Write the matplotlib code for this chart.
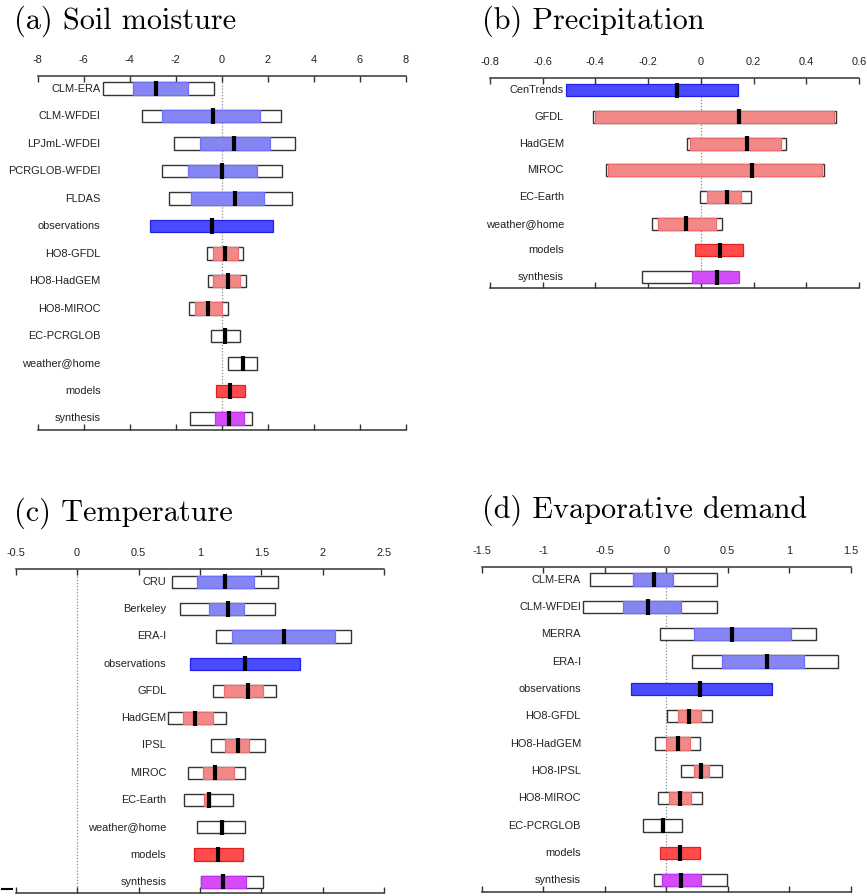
import numpy as np
import matplotlib
matplotlib.use("Agg")
import matplotlib.pyplot as plt
from matplotlib.lines import Line2D

nan = np.nan

# ---------------- (a) Soil moisture ----------------
labels_a = ['CLM-ERA', 'CLM-WFDEI', 'LPJmL-WFDEI', 'PCRGLOB-WFDEI', 'FLDAS', 'observations',
            'HO8-GFDL', 'HO8-HadGEM', 'HO8-MIROC', 'EC-PCRGLOB', 'weather@home', 'models', 'synthesis']
kind_a = ['obs'] * 5 + ['obs_syn'] + ['mod'] * 5 + ['mod_syn', 'syn']
outer_lo_a = [-5.18, -3.45, -2.09, -2.61, -2.29, nan, -0.65, -0.62, -1.42, -0.49, 0.28, nan, -1.40]
outer_hi_a = [-0.32, 2.58, 3.19, 2.62, 3.04, nan, 0.94, 1.07, 0.26, 0.77, 1.52, nan, 1.33]
inner_lo_a = [-3.84, -2.59, -0.97, -1.49, -1.32, -3.11, -0.39, -0.39, -1.16, 0.08, nan, -0.26, -0.29]
inner_hi_a = [-1.49, 1.67, 2.10, 1.52, 1.84, 2.22, 0.68, 0.80, 0.00, 0.20, nan, 1.00, 0.96]
median_a = [-2.84, -0.39, 0.54, -0.01, 0.55, -0.43, 0.14, 0.26, -0.58, 0.12, 0.90, 0.36, 0.32]
ticks_a = [-8, -6, -4, -2, 0, 2, 4, 6, 8]

# ---------------- (b) Precipitation ----------------
labels_b = ['CenTrends', 'GFDL', 'HadGEM', 'MIROC', 'EC-Earth', 'weather@home', 'models', 'synthesis']
kind_b = ['obs_syn'] + ['mod'] * 5 + ['mod_syn', 'syn']
outer_lo_b = [nan, -0.408, -0.052, -0.358, -0.005, -0.185, nan, -0.225]
outer_hi_b = [nan, 0.512, 0.322, 0.469, 0.190, 0.080, nan, 0.116]
inner_lo_b = [-0.512, -0.403, -0.040, -0.352, 0.024, -0.161, -0.024, -0.033]
inner_hi_b = [0.142, 0.506, 0.304, 0.460, 0.152, 0.058, 0.159, 0.144]
median_b = [-0.091, 0.143, 0.175, 0.193, 0.101, -0.057, 0.073, 0.061]
ticks_b = [-0.8, -0.6, -0.4, -0.2, 0, 0.2, 0.4, 0.6]

# ---------------- (c) Temperature ----------------
labels_c = ['CRU', 'Berkeley', 'ERA-I', 'observations', 'GFDL', 'HadGEM', 'IPSL', 'MIROC',
            'EC-Earth', 'weather@home', 'models', 'synthesis']
kind_c = ['obs'] * 3 + ['obs_syn'] + ['mod'] * 6 + ['mod_syn', 'syn']
outer_lo_c = [0.776, 0.84, 1.128, nan, 1.106, 0.743, 1.088, 0.901, 0.871, 0.977, nan, 1.009]
outer_hi_c = [1.631, 1.61, 2.23, nan, 1.619, 1.213, 1.530, 1.370, 1.272, 1.370, nan, 1.511]
inner_lo_c = [0.974, 1.077, 1.258, 0.92, 1.196, 0.863, 1.207, 1.025, 1.033, nan, 0.955, 1.009]
inner_hi_c = [1.443, 1.362, 2.10, 1.81, 1.513, 1.109, 1.402, 1.280, 1.08, nan, 1.354, 1.372]
median_c = [1.20, 1.23, 1.68, 1.37, 1.389, 0.963, 1.307, 1.12, 1.07, 1.18, 1.15, 1.19]
ticks_c = [-0.5, 0, 0.5, 1, 1.5, 2, 2.5]

# ---------------- (d) Evaporative demand ----------------
labels_d = ['CLM-ERA', 'CLM-WFDEI', 'MERRA', 'ERA-I', 'observations', 'HO8-GFDL', 'HO8-HadGEM',
            'HO8-IPSL', 'HO8-MIROC', 'EC-PCRGLOB', 'models', 'synthesis']
kind_d = ['obs'] * 4 + ['obs_syn'] + ['mod'] * 5 + ['mod_syn', 'syn']
outer_lo_d = [-0.622, -0.676, -0.047, 0.207, nan, 0.004, -0.091, 0.118, -0.066, -0.186, nan, -0.096]
outer_hi_d = [0.416, 0.416, 1.221, 1.400, nan, 0.375, 0.278, 0.457, 0.294, 0.131, nan, 0.492]
inner_lo_d = [-0.272, -0.348, 0.224, 0.457, -0.283, 0.093, -0.004, 0.226, 0.026, -0.045, -0.047, -0.031]
inner_hi_d = [0.053, 0.123, 1.012, 1.118, 0.858, 0.283, 0.191, 0.348, 0.199, -0.015, 0.272, 0.280]
median_d = [-0.099, -0.145, 0.535, 0.817, 0.278, 0.188, 0.093, 0.286, 0.112, -0.028, 0.112, 0.123]
ticks_d = [-1.5, -1, -0.5, 0, 0.5, 1, 1.5]

# fill / edge colours for the inner (coloured) bars
STYLE = {
    'obs':     ('#8585f3', '#6f6ff8'),
    'obs_syn': ('#4a4aff', '#2020e6'),
    'mod':     ('#f28888', '#ef6c6c'),
    'mod_syn': ('#ff4b4b', '#e02020'),
    'syn':     ('#d24df7', '#bf33f0'),
}

W, H = 867, 896
fig = plt.figure(figsize=(W / 100, H / 100), dpi=100)
fig.patch.set_facecolor('white')

TXT = 7.9


def px_axes(left, top, right, bottom):
    return fig.add_axes([left / W, 1 - bottom / H, (right - left) / W, (bottom - top) / H])


def draw_panel(ax, labels, kinds, olo, ohi, ilo, ihi, med, ticks):
    n = len(labels)
    y = np.arange(n)
    olo, ohi, ilo, ihi, med = map(np.asarray, (olo, ohi, ilo, ihi, med))
    h = 0.45

    ax.axvline(0, color='#8a8a8a', ls=(0, (1, 1.5)), lw=0.9, zorder=1)

    for i in range(n):
        if np.isfinite(olo[i]):
            ax.barh(y[i], ohi[i] - olo[i], left=olo[i], height=h, color='white',
                    edgecolor='#333333', linewidth=1.0, zorder=2)
        if np.isfinite(ilo[i]):
            fc, ec = STYLE[kinds[i]]
            ax.barh(y[i], ihi[i] - ilo[i], left=ilo[i], height=h, color=fc,
                    edgecolor=ec, linewidth=0.9, zorder=3)

    ax.vlines(med, y - 0.28, y + 0.28, colors='black', lw=3.0, zorder=4)

    lab_x = np.nanmin(np.concatenate([olo, ilo]))
    for i, lab in enumerate(labels):
        ax.annotate(lab, (lab_x, y[i]), xytext=(-1.5, 0), textcoords='offset points',
                    ha='right', va='center', fontsize=TXT, color='#222222',
                    family='Liberation Sans', zorder=5)

    ax.set_xlim(ticks[0], ticks[-1])
    ax.set_ylim(n - 1 + 0.42, -0.47)
    ax.set_xticks(ticks, labels=[f'{t:g}' for t in ticks])
    ax.set_yticks([])
    for s in ('left', 'right'):
        ax.spines[s].set_visible(False)
    for s in ('top', 'bottom'):
        ax.spines[s].set_color('#333333')
        ax.spines[s].set_linewidth(1.1)
    ax.tick_params(axis='x', top=True, bottom=True, labeltop=True, labelbottom=False,
                   direction='in', length=4, width=1.0, color='#333333', pad=8,
                   labelsize=TXT, labelcolor='#222222')
    for t in ax.get_xticklabels():
        t.set_family('Liberation Sans')
    ax.set_facecolor('none')


ax_a = px_axes(37.7, 75.7, 406.0, 430.0)
ax_b = px_axes(490.0, 77.7, 859.0, 288.3)
ax_c = px_axes(15.7, 569.0, 384.3, 893.3)
ax_d = px_axes(481.7, 566.7, 850.7, 891.7)

draw_panel(ax_a, labels_a, kind_a, outer_lo_a, outer_hi_a, inner_lo_a, inner_hi_a, median_a, ticks_a)
draw_panel(ax_b, labels_b, kind_b, outer_lo_b, outer_hi_b, inner_lo_b, inner_hi_b, median_b, ticks_b)
draw_panel(ax_c, labels_c, kind_c, outer_lo_c, outer_hi_c, inner_lo_c, inner_hi_c, median_c, ticks_c)
draw_panel(ax_d, labels_d, kind_d, outer_lo_d, outer_hi_d, inner_lo_d, inner_hi_d, median_d, ticks_d)

# panel titles
title_kw = dict(fontsize=21.8, family='cmr10', va='baseline', ha='left', color='black')
fig.text(14 / W, 1 - 29 / H, '(a) Soil moisture', **title_kw)
fig.text(482 / W, 1 - 29 / H, '(b) Precipitation', **title_kw)
fig.text(14 / W, 1 - 521 / H, '(c) Temperature', **title_kw)
fig.text(482 / W, 1 - 518 / H, '(d) Evaporative demand', **title_kw)

# small stray dash at the lower-left corner
fig.add_artist(Line2D([2 / W, 12 / W], [1 - 889 / H, 1 - 889 / H], color='black', lw=1.5))

fig.savefig('out.png', dpi=100)
